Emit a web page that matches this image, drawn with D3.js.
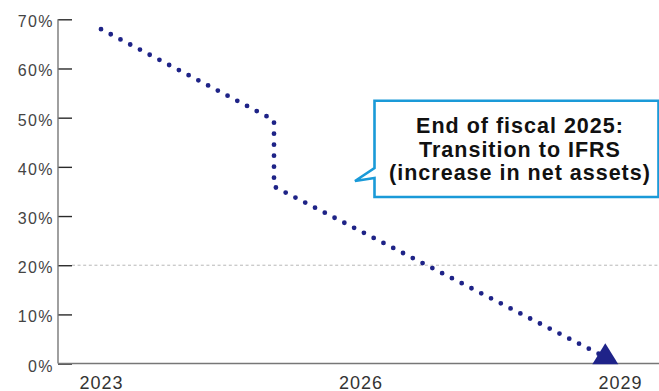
<!DOCTYPE html>
<html>
<head>
<meta charset="utf-8">
<script src="https://cdn.jsdelivr.net/npm/d3@7"></script>
<style>
  html, body { margin: 0; padding: 0; background: #fff; }
  svg { display: block; }
  text { font-family: "Liberation Sans", Arial, Helvetica, sans-serif; }
</style>
</head>
<body>
<svg id="chart" width="659" height="391"></svg>
<script>
// Ratio trajectory: fiscal years and ratio (%)
const years = [2023, 2025, 2025, 2028.83];
const ratios = [68, 49.5, 36, 1.3];

// Axis ticks
const yTicks = [0, 10, 20, 30, 40, 50, 60, 70];
const xTickYears = [2023, 2026, 2029];
const gridLevels = [20];

// Callout text
const calloutLines = ["End of fiscal 2025:", "Transition to IFRS", "(increase in net assets)"];

const W = 659, H = 391;
const svg = d3.select("#chart");

const x = d3.scaleLinear().domain([2023, 2029]).range([101, 620]);
const y = d3.scaleLinear().domain([0, 70]).range([363.6, 19.3]);
const axisX = 58;

// Dashed reference line
svg.selectAll("line.grid").data(gridLevels).join("line")
  .attr("class", "grid")
  .attr("x1", axisX + 14).attr("x2", W)
  .attr("y1", d => y(d)).attr("y2", d => y(d))
  .attr("stroke", "#b8b8b8").attr("stroke-width", 1)
  .attr("stroke-dasharray", "3 2.6");

// Y axis
const yAxis = d3.axisRight(y).tickValues(yTicks).tickSize(14).tickFormat("");
const gy = svg.append("g").attr("transform", `translate(${axisX},0)`).call(yAxis);
gy.select(".domain").remove();
gy.selectAll(".tick line").attr("stroke", "#2a2a2a").attr("stroke-width", 1.4);
svg.append("line")
  .attr("x1", axisX).attr("x2", axisX)
  .attr("y1", y(70)).attr("y2", y(0))
  .attr("stroke", "#777").attr("stroke-width", 1.4);

svg.selectAll("text.ylab").data(yTicks).join("text")
  .attr("class", "ylab")
  .attr("x", 54)
  .attr("y", d => y(d) + 8)
  .attr("text-anchor", "end")
  .attr("font-size", 16)
  .attr("letter-spacing", 1.4)
  .attr("fill", "#444")
  .text(d => d + "%");

// X axis baseline
svg.append("line")
  .attr("x1", axisX).attr("x2", W)
  .attr("y1", y(0)).attr("y2", y(0))
  .attr("stroke", "#777").attr("stroke-width", 1.5);

svg.selectAll("text.xlab").data(xTickYears).join("text")
  .attr("class", "xlab")
  .attr("x", d => x(d) + 0.5)
  .attr("y", 388.5)
  .attr("text-anchor", "middle")
  .attr("font-size", 18)
  .attr("letter-spacing", 1)
  .attr("fill", "#333")
  .text(d => d);

// Dotted trajectory
const pts = years.map((yr, i) => [x(yr), y(ratios[i])]);
svg.append("path")
  .attr("d", d3.line()(pts))
  .attr("fill", "none")
  .attr("stroke", "#1e2387")
  .attr("stroke-width", 4.8)
  .attr("stroke-linecap", "round")
  .attr("stroke-dasharray", "0 11");

// Triangle marker at the end point
const end = pts[pts.length - 1];
svg.append("path")
  .attr("d", "M0,-14L13,7L-13,7Z")
  .attr("transform", `translate(${end[0]},${end[1]})`)
  .attr("fill", "#1f2389");

// Callout box with pointer
const bx0 = 374.5, by0 = 100.7, bx1 = 658.5, by1 = 197;
const tip = [355, 181];
const callout = d3.path();
callout.moveTo(bx0, by0);
callout.lineTo(bx1, by0);
callout.lineTo(bx1, by1);
callout.lineTo(bx0, by1);
callout.lineTo(bx0, 178);
callout.lineTo(tip[0], tip[1]);
callout.lineTo(bx0, 168);
callout.closePath();
svg.append("path")
  .attr("d", callout.toString())
  .attr("fill", "#fff")
  .attr("stroke", "#1a9ad8")
  .attr("stroke-width", 2.6)
  .attr("stroke-linejoin", "miter");

svg.selectAll("text.note").data(calloutLines).join("text")
  .attr("class", "note")
  .attr("x", 520)
  .attr("y", (d, i) => 133 + i * 23.5)
  .attr("text-anchor", "middle")
  .attr("font-size", 21.5)
  .attr("font-weight", "bold")
  .attr("letter-spacing", 1.0)
  .attr("fill", "#111")
  .text(d => d);
</script>
</body>
</html>
